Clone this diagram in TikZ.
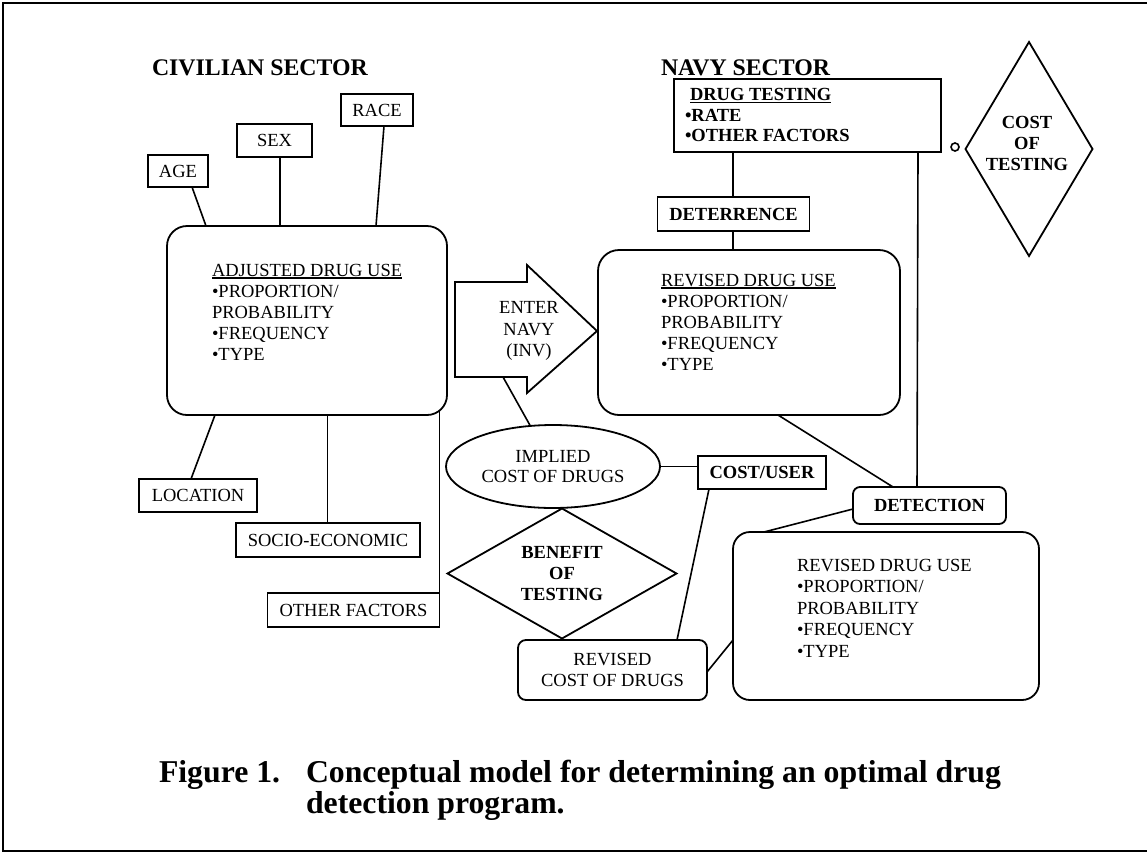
\documentclass[tikz,border=0pt]{standalone}
\usepackage{fontspec}
\setmainfont{Liberation Serif}
\usetikzlibrary{shapes.geometric}
\newcommand{\myul}[1]{\setbox0\hbox{#1}\rlap{\rule[-2.4pt]{\wd0}{1.2pt}}\box0}
\begin{document}
\begin{tikzpicture}[x=1pt,y=-1pt,
  every node/.style={inner sep=0pt, outer sep=0pt},
  box/.style={draw, line width=1.8pt, align=center, font=\fontsize{18.5}{21}\selectfont},
  bbox/.style={box, font=\fontsize{18.5}{21}\selectfont\bfseries},
  rbox/.style={draw, line width=1.8pt},
  txt/.style={align=left, font=\fontsize{18.5}{21}\selectfont},
  btxt/.style={align=left, font=\fontsize{18.5}{20.5}\selectfont\bfseries},
  ctxt/.style={align=center, font=\fontsize{18.5}{21.5}\selectfont},
  bctxt/.style={align=center, font=\fontsize{18.5}{21}\selectfont\bfseries},
  link/.style={draw, line width=1.6pt},
  title/.style={anchor=base west, font=\fontsize{23.8}{28}\selectfont\bfseries},
  captxt/.style={anchor=base west, font=\fontsize{31.75}{36}\selectfont\bfseries}]

\useasboundingbox (0,0) rectangle (1147,854);
% frame
\draw[line width=2.2pt] (1147,3) -- (3,3) -- (3,851) -- (1147,851);

% titles
\node[title] (civ) at (152,75) {CIVILIAN SECTOR};
\node[title] (navy) at (661,75) {NAVY SECTOR};

% civilian sector
\node[box, minimum width=60pt, minimum height=32pt] (age) at (178,171) {AGE};
\node[box, minimum width=75pt, minimum height=33pt] (sex) at (274.5,140.5) {SEX};
\node[box, minimum width=72pt, minimum height=32pt] (race) at (377,110) {RACE};
\node[rbox, rounded corners=20pt, minimum width=280pt, minimum height=189pt] (adj) at (307,320.5) {};
\node[txt, anchor=north west] (adjtxt) at (212,264) {\myul{ADJUSTED DRUG USE}\\•PROPORTION/\\PROBABILITY\\•FREQUENCY\\•TYPE};
\node[box, minimum width=118pt, minimum height=33pt] (loc) at (198,495.5) {LOCATION};
\node[box, minimum width=184pt, minimum height=34pt] (socio) at (328,540) {SOCIO-ECONOMIC};
\node[box, minimum width=172pt, minimum height=34pt] (other) at (353.5,610) {OTHER FACTORS};

\draw[link] ([xshift=14pt]age.south) -- ([xshift=-101pt]adj.north);
\draw[link] ([xshift=5.5pt]sex.south) -- ([xshift=-27pt]adj.north);
\draw[link] ([xshift=7pt]race.south) -- ([xshift=69pt]adj.north);
\draw[link] ([xshift=-92pt]adj.south) -- ([xshift=-7pt]loc.north);
\draw[link] ([xshift=20.5pt]adj.south) -- ([xshift=-0.5pt]socio.north);
\draw[link] ([xshift=132.5pt,yshift=4pt]adj.south) -- (other.north east);

% enter navy arrow
\draw[line width=1.8pt, line join=miter] (455,282) -- (527,282) -- (527,265) -- (597,331) -- (527,393) -- (527,377) -- (455,377) -- cycle;
\node[ctxt] (enter) at (529,331) {ENTER\\NAVY\\(INV)};
\coordinate (arrowfoot) at (503,377);

% implied cost
\node[draw, ellipse, line width=1.8pt, minimum width=214pt, minimum height=83pt, align=center, font=\fontsize{18.5}{20}\selectfont] (implied) at (553,466.5) {IMPLIED\\COST OF DRUGS};
\draw[link] (arrowfoot) -- (implied);

% benefit of testing
\node[draw, diamond, line width=1.8pt, minimum width=229pt, minimum height=130pt] (benefit) at (562,573.5) {};
\node[bctxt] (bentxt) at (562,574) {BENEFIT\\OF\\TESTING};

% navy sector
\node[rbox, minimum width=267pt, minimum height=73pt] (drugtest) at (807.5,115.5) {};
\node[btxt, anchor=north west] (dttxt) at (685,88.7) {\hspace*{5pt}\myul{DRUG TESTING}\\•RATE\\•OTHER FACTORS};
\node[draw, circle, line width=1.6pt, minimum size=8pt] (knob) at (955,147) {};
\node[draw, diamond, line width=1.8pt, minimum width=127pt, minimum height=214pt] (costtest) at (1029,149) {};
\node[bctxt] (cttxt) at (1027,143) {COST\\OF\\TESTING};

\node[bbox, minimum width=152pt, minimum height=34pt] (deter) at (733.5,214) {DETERRENCE};
\draw[link] ([xshift=-74.5pt]drugtest.south) -- ([xshift=-0.5pt]deter.north);

\node[rbox, rounded corners=21pt, minimum width=302pt, minimum height=165pt] (navybox) at (749,332.5) {};
\node[txt, anchor=north west] (navytxt) at (661,274) {\myul{REVISED DRUG USE}\\•PROPORTION/\\PROBABILITY\\•FREQUENCY\\•TYPE};
\draw[link] ([xshift=-0.5pt]deter.south) -- ([xshift=-16pt]navybox.north);

\node[bbox, rounded corners=7pt, minimum width=153pt, minimum height=37pt] (detect) at (929.5,505.5) {DETECTION};
\draw[link] ([xshift=110.5pt]drugtest.south) -- ([xshift=-12.5pt]detect.north);
\draw[link] ([xshift=29pt]navybox.south) -- ([xshift=-36.5pt]detect.north);

\node[rbox, rounded corners=17pt, minimum width=306pt, minimum height=168pt] (botbox) at (886,616) {};
\node[txt, anchor=north west, font=\fontsize{18.5}{21.5}\selectfont] (bottxt) at (797,559) {REVISED DRUG USE\\•PROPORTION/\\PROBABILITY\\•FREQUENCY\\•TYPE};
\draw[link] ([yshift=-3.5pt]detect.west) -- ([xshift=-122pt]botbox.north);

\node[bbox, minimum width=128pt, minimum height=33pt] (costuser) at (762,472.5) {COST/USER};
\draw[link] (implied.east) -- (implied.east -| costuser.west);

\node[box, rounded corners=8pt, minimum width=189pt, minimum height=60pt] (revcost) at (612.5,670) {REVISED\\COST OF DRUGS};
\draw[link] ([xshift=-53pt]costuser.south) -- ([xshift=64.5pt]revcost.north);
\draw[link] ([yshift=-2pt]revcost.east) -- ([yshift=-24pt]botbox.west);

% caption
\node[captxt] (cap1) at (159,782) {Figure 1.};
\node[captxt] (cap2) at (306,782) {Conceptual model for determining an optimal drug};
\node[captxt] (cap3) at (306,813) {detection program.};
\end{tikzpicture}
\end{document}
